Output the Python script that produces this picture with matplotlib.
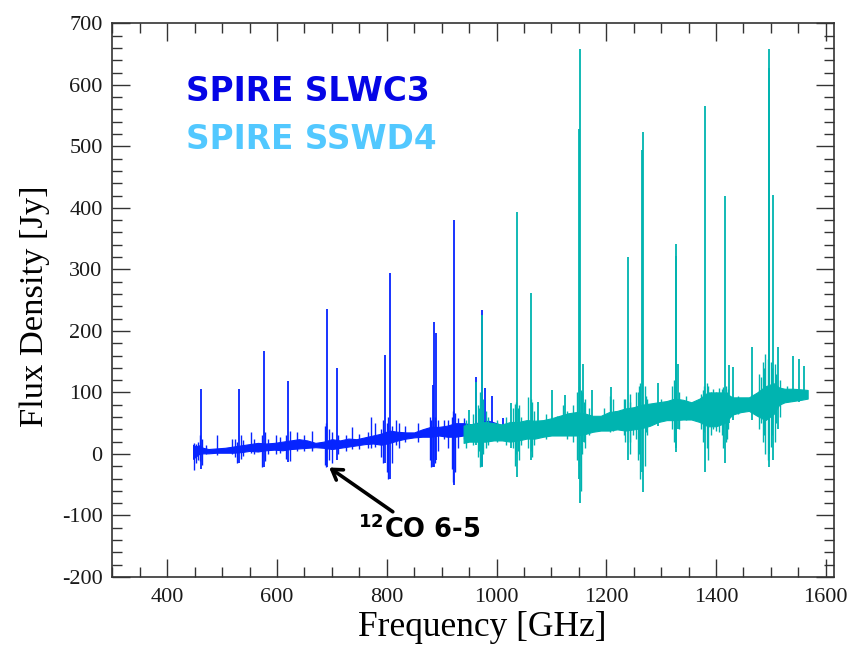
import matplotlib
matplotlib.use("Agg")
import matplotlib.pyplot as plt
from matplotlib.ticker import MultipleLocator

plt.rcParams["axes.unicode_minus"] = False

# SPIRE SLW (SLWC3) band: continuum noise band
slw_freq = [447, 452, 458, 465, 475, 490, 505, 520, 535, 550, 565, 580, 595, 610, 625,
            640, 655, 670, 685, 700, 715, 730, 745, 760, 775, 790, 805, 820, 835, 850,
            865, 880, 895, 910, 925, 940, 955, 970, 985, 1000, 1012]
slw_hi = [15, 12, 14, 10, 8, 9, 10, 12, 14, 16, 18, 17, 18, 20, 22,
          24, 22, 18, 20, 24, 22, 25, 24, 27, 30, 33, 38, 36, 35, 35,
          40, 44, 44, 46, 50, 50, 48, 52, 54, 50, 45]
slw_lo = [-8, -4, 0, 1, 1, 2, 2, 2, 3, 5, 4, 6, 7, 6, 8,
          9, 10, 11, 10, 8, 10, 12, 14, 16, 17, 15, 18, 22, 25, 27,
          28, 28, 30, 28, 28, 30, 30, 32, 32, 35, 35]
# SLW emission lines: frequency, peak, lowest dip
slw_line_freq = [460.8, 531.1, 576.0, 620.3, 691.7, 709.0, 797.6, 806.0, 883.7,
                 886.1, 890.5, 922.0, 963.3, 973.5, 979.7, 991.2, 1011.2]
slw_line_peak = [105, 105, 167, 119, 235, 139, 161, 294, 112,
                 215, 196, 380, 125, 234, 107, 94, 58]
slw_line_dip = [-25, -15, -21, -13, -21, -10, -15, -40, -21,
                -21, -10, -51, 20, -20, 20, 25, 30]
# SLW noise spikes and line wings
slw_spike_freq = [449, 452, 456, 459, 463, 470, 490, 518, 523, 527, 534, 538, 552, 558,
                  572, 579, 583, 598, 605, 616, 623, 636, 650, 663, 688, 690, 695, 700,
                  712, 725, 736, 750, 765, 772, 778, 790, 794, 800, 803, 810, 816, 822,
                  834, 856, 878, 881, 888, 894, 905, 912, 918, 920, 925, 930, 940]
slw_spike_hi = [18, 16, 20, 30, 25, 15, 30, 25, 25, 20, 30, 22, 36, 25,
                30, 35, 25, 30, 28, 30, 38, 36, 30, 37, 45, 50, 40, 35,
                30, 30, 44, 32, 35, 60, 50, 40, 55, 50, 60, 45, 55, 50,
                45, 50, 60, 55, 60, 55, 55, 55, 60, 70, 66, 58, 58]
slw_spike_lo = [-26, -15, -10, -12, -18, 0, -2, 0, -5, -15, -8, -4, 2, 0,
                -21, -12, 0, 0, 2, -8, -12, 5, 5, 5, -18, -21, -10, -15,
                0, 5, 8, 8, 10, 10, 12, -5, -15, -30, -40, -15, 15, 10,
                20, 20, -10, -21, -15, 5, 25, 10, -25, -45, -30, 10, 25]

# SPIRE SSW (SSWD4) band
ssw_freq = [940, 950, 965, 980, 995, 1010, 1025, 1040, 1055, 1070, 1085, 1100, 1115,
            1130, 1145, 1160, 1175, 1190, 1205, 1220, 1235, 1250, 1265, 1280, 1295,
            1310, 1325, 1340, 1355, 1370, 1385, 1400, 1415, 1430, 1445, 1460, 1475,
            1490, 1505, 1515, 1525, 1540, 1555, 1567]
ssw_hi = [46, 48, 50, 52, 50, 48, 52, 52, 55, 54, 55, 58, 62,
          66, 68, 66, 62, 62, 68, 70, 74, 76, 80, 82, 84,
          86, 90, 88, 84, 90, 100, 100, 100, 92, 92, 92, 100,
          110, 115, 108, 106, 106, 105, 104]
ssw_lo = [18, 20, 20, 20, 22, 22, 20, 22, 25, 25, 28, 30, 30,
          30, 30, 32, 36, 38, 38, 40, 38, 40, 42, 46, 52,
          55, 55, 56, 56, 52, 45, 45, 50, 64, 68, 70, 62,
          55, 65, 80, 84, 86, 88, 90]
ssw_line_freq = [949.3, 963.3, 973.5, 1025.8, 1037.2, 1062.2, 1075.5, 1101.0, 1124.1,
                 1149.6, 1151.4, 1157.4, 1173.8, 1207.8, 1239.4, 1264.3, 1266.1, 1294.0,
                 1326.2, 1327.5, 1330.4, 1380.8, 1416.0, 1424.5, 1430.5, 1465.1, 1496.1,
                 1497.4, 1504.1, 1512.5, 1539.8, 1550.7, 1561.1]
ssw_line_peak = [71, 117, 226, 83, 393, 261, 85, 104, 96,
                 529, 659, 147, 104, 109, 320, 494, 524, 115,
                 322, 342, 147, 565, 419, 144, 141, 174, 658,
                 627, 421, 174, 159, 155, 143]
ssw_line_dip = [20, 15, -21, 10, -37, -10, 30, 35, 38,
                -40, -80, 20, 35, 40, -10, -30, -62, 45,
                10, 3, 40, -29, -15, 50, 55, 55, -21,
                0, -10, 40, 85, 85, 90]
ssw_spike_freq = [945, 958, 966, 968, 970, 972, 976, 980, 985, 1000, 1018, 1030, 1034,
                  1035, 1040, 1041, 1045, 1058, 1063, 1065, 1068, 1090, 1110, 1122, 1128,
                  1140, 1146, 1150, 1154, 1156, 1160, 1162, 1168, 1196, 1207, 1212, 1215,
                  1232, 1235, 1243, 1244, 1248, 1255, 1258, 1260, 1262, 1270, 1272, 1275,
                  1300, 1320, 1324, 1333, 1345, 1372, 1376, 1378, 1383, 1385, 1390, 1395,
                  1400, 1405, 1410, 1413, 1418, 1420, 1422, 1440, 1478, 1482, 1485, 1488,
                  1490, 1494, 1500, 1502, 1508, 1510, 1516, 1530]
ssw_spike_hi = [55, 65, 80, 75, 100, 80, 90, 70, 60, 55, 60, 75, 82,
                85, 75, 80, 60, 93, 90, 85, 70, 65, 62, 80, 70,
                80, 100, 110, 104, 100, 85, 90, 75, 75, 95, 90, 70,
                90, 90, 98, 85, 75, 100, 100, 110, 115, 110, 95, 90,
                90, 110, 120, 100, 95, 98, 104, 110, 115, 110, 100, 105,
                100, 108, 105, 109, 110, 100, 105, 95, 130, 125, 150, 140,
                163, 155, 150, 140, 147, 130, 120, 110]
ssw_spike_lo = [10, 15, -5, 5, -21, 0, 0, 10, 15, 20, 15, 10, -20,
                0, 5, -10, 15, 10, 5, -5, 15, 25, 35, 30, 25,
                20, -10, -20, -60, 0, 20, 10, 30, 40, 35, 38, 40,
                30, 20, 0, 20, 30, 25, -10, 0, -40, -20, 35, 30,
                55, 40, 20, 40, 55, 40, 20, 35, 10, -10, 30, 40,
                38, 35, 30, 10, 20, 25, 40, 65, 40, 50, 20, 30,
                0, -10, 11, 30, 20, 50, 60, 85]

slw_col = "#0624ff"
ssw_col = "#00b4b0"

fig = plt.figure(figsize=(8.52, 6.47), dpi=100)
ax = fig.add_axes([112.4 / 852, 70 / 647, (834 - 112.4) / 852, (577 - 23.3) / 647])

ax.fill_between(slw_freq, slw_lo, slw_hi, color=slw_col, lw=0.8, zorder=2)
ax.vlines(slw_spike_freq, slw_spike_lo, slw_spike_hi, color=slw_col, lw=1.0, zorder=2)
ax.vlines(slw_line_freq, slw_line_dip, slw_line_peak, color=slw_col, lw=1.3, zorder=2)
ax.fill_between(ssw_freq, ssw_lo, ssw_hi, color=ssw_col, lw=0.8, zorder=3)
ax.vlines(ssw_spike_freq, ssw_spike_lo, ssw_spike_hi, color=ssw_col, lw=1.0, zorder=3)
ax.vlines(ssw_line_freq, ssw_line_dip, ssw_line_peak, color=ssw_col, lw=1.3, zorder=3)

ax.set_xlim(300, 1615)
ax.set_ylim(-200, 700)
ax.xaxis.set_major_locator(MultipleLocator(200))
ax.xaxis.set_minor_locator(MultipleLocator(50))
ax.yaxis.set_major_locator(MultipleLocator(100))
ax.yaxis.set_minor_locator(MultipleLocator(20))
ax.tick_params(which="both", direction="in", top=True, right=True, width=1.0, color="0.2")
ax.tick_params(which="major", length=13)
ax.tick_params(which="minor", length=7)
ax.tick_params(axis="x", pad=8)
ax.tick_params(axis="y", pad=7)
for lbl in ax.get_xticklabels() + ax.get_yticklabels():
    lbl.set_fontfamily("Liberation Serif")
    lbl.set_fontsize(16)
    lbl.set_color("0.1")
for sp in ax.spines.values():
    sp.set_linewidth(1.2)
    sp.set_color("0.2")

ax.set_xlabel("Frequency [GHz]", family="Liberation Serif", fontsize=25.5)
ax.set_ylabel("Flux Density [Jy]", family="Liberation Serif", fontsize=24.8)
ax.xaxis.set_label_coords((482 - 112.4) / (834 - 112.4), -(611 - 577) / (577 - 23.3))
ax.yaxis.set_label_coords(-(112.4 - 50) / (834 - 112.4), (577 - 306) / (577 - 23.3))

ax.text(0.102, 0.877, "SPIRE SLWC3", transform=ax.transAxes, fontsize=23.6,
        fontweight="bold", color="#0505e6", va="center", ha="left")
ax.text(0.102, 0.791, "SPIRE SSWD4", transform=ax.transAxes, fontsize=23.6,
        fontweight="bold", color="#52c8ff", va="center", ha="left")

ax.annotate("", xy=(695, -22), xytext=(811, -94),
            arrowprops=dict(arrowstyle="->,head_length=0.7,head_width=0.45", lw=2.6,
                            color="black", shrinkA=0, shrinkB=0))
ax.text(860, -124, r"$^{\mathbf{12}}$CO 6-5", fontsize=18.5, fontweight="bold",
        ha="center", va="center")

fig.savefig("out.png", dpi=100)
